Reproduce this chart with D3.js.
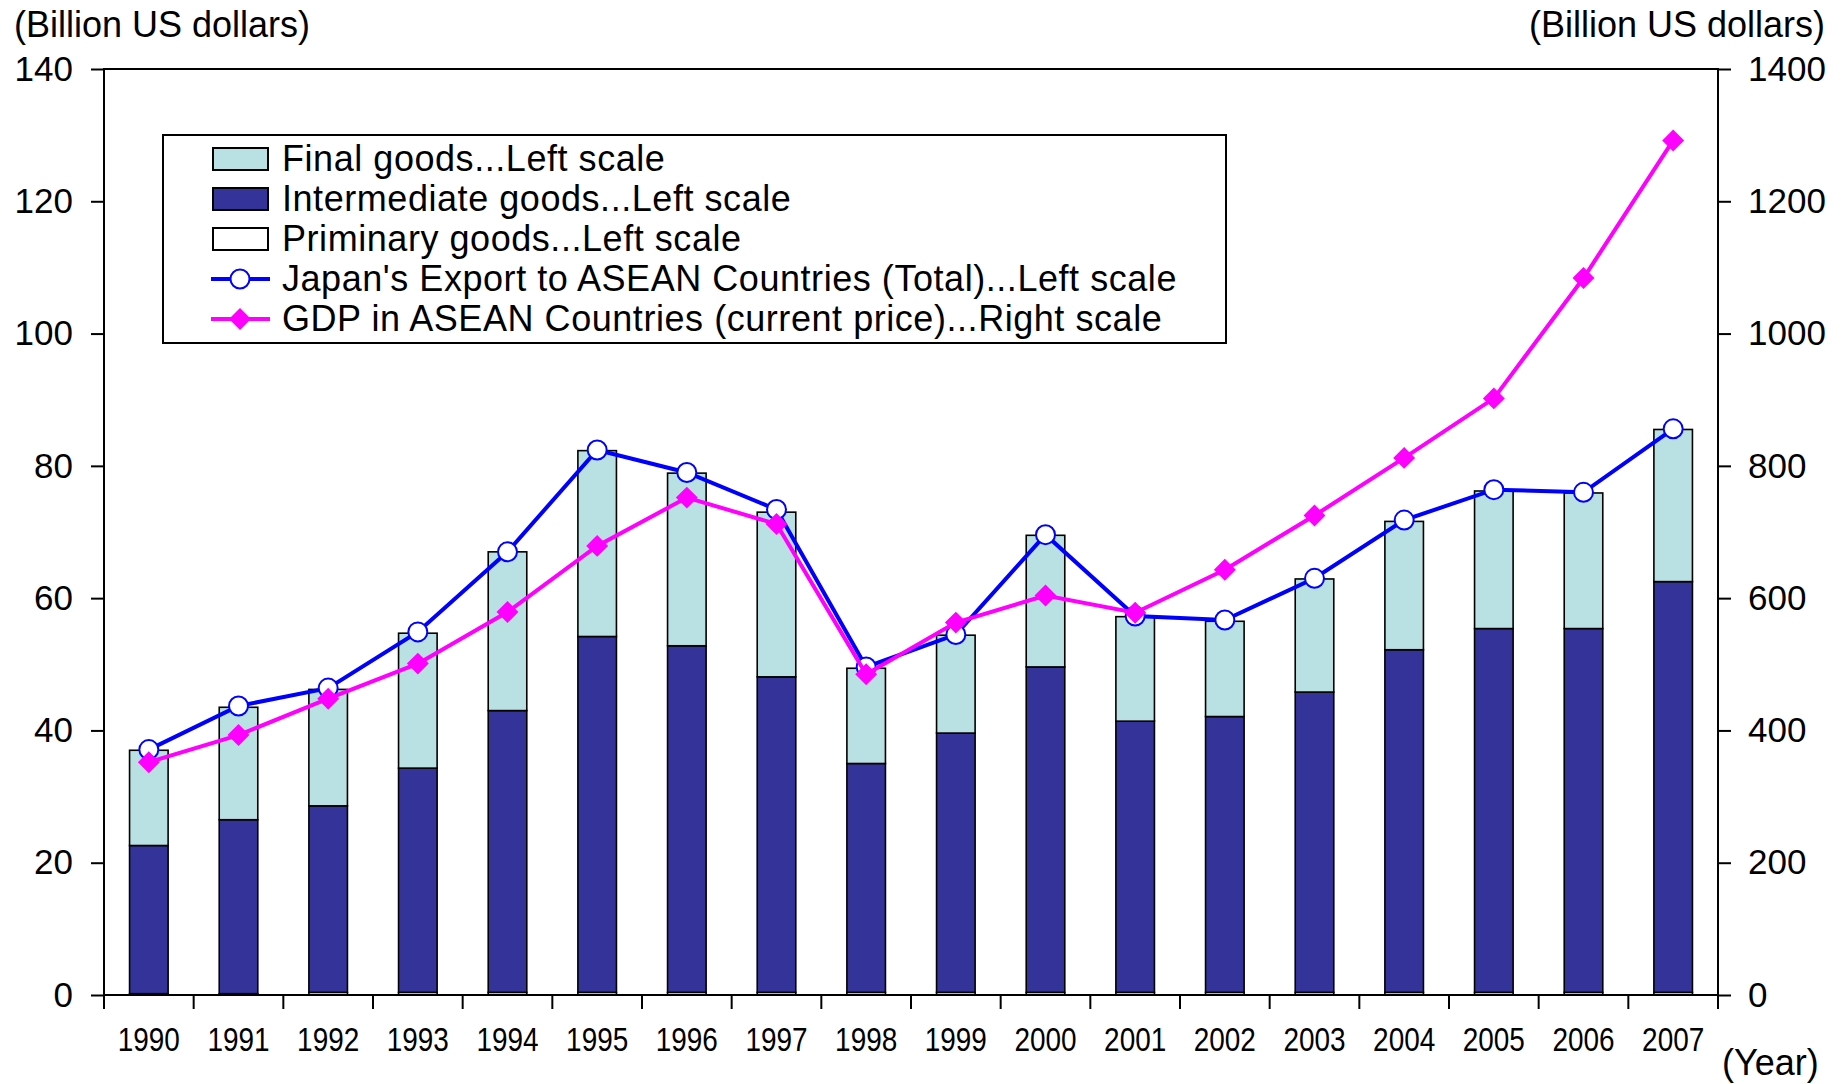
<!DOCTYPE html>
<html>
<head>
<meta charset="utf-8">
<script src="https://cdn.jsdelivr.net/npm/d3@7"></script>
<style>
  body { margin: 0; background: #fff; }
  text { font-family: 'Liberation Sans', Arial, sans-serif; fill: #000; }
</style>
</head>
<body>
<div id="chart-area"></div>
<script>
// chart data (billion US dollars)
const years = ['1990', '1991', '1992', '1993', '1994', '1995', '1996', '1997', '1998',
  '1999', '2000', '2001', '2002', '2003', '2004', '2005', '2006', '2007'];
const primary = [0.2, 0.2, 0.4, 0.4, 0.4, 0.4, 0.4, 0.4, 0.4, 0.4, 0.4, 0.4, 0.4, 0.4, 0.4, 0.4, 0.4, 0.4];
const intermediate = [22.4, 26.3, 28.2, 33.9, 42.6, 53.8, 52.4, 47.7, 34.6, 39.2, 49.2, 41.0, 41.7, 45.4, 51.8, 55.0, 55.0, 62.1];
const finalGoods = [14.4, 17.0, 17.6, 20.4, 24.0, 28.1, 26.1, 24.9, 14.4, 14.8, 19.9, 15.8, 14.4, 17.1, 19.4, 20.8, 20.5, 23.0];
const exportTotal = [37.1, 43.7, 46.4, 54.9, 67.0, 82.4, 79.0, 73.4, 49.6, 54.5, 69.6, 57.3, 56.7, 63.0, 71.8, 76.4, 76.0, 85.6];
const gdp = [352, 393, 448, 501, 579, 679, 752, 712, 485, 563, 604, 578, 643, 725, 812, 902, 1084, 1292];

const leftTicks = [0, 20, 40, 60, 80, 100, 120, 140];
const rightTicks = [0, 200, 400, 600, 800, 1000, 1200, 1400];

const legendItems = [
  { label: 'Final goods...Left scale', type: 'rect', fill: '#b9e0e3' },
  { label: 'Intermediate goods...Left scale', type: 'rect', fill: '#333399' },
  { label: 'Priminary goods...Left scale', type: 'rect', fill: '#ffffff' },
  { label: "Japan's Export to ASEAN Countries (Total)...Left scale", type: 'circle', color: '#0000ff' },
  { label: 'GDP in ASEAN Countries (current price)...Right scale', type: 'diamond', color: '#ff00ff' },
];

const W = 1843, H = 1084;
const plot = { left: 104, right: 1718, top: 69, bottom: 995 };

const svg = d3.select('#chart-area').append('svg')
  .attr('width', W).attr('height', H)
  .attr('viewBox', `0 0 ${W} ${H}`);

// scales
const x = d3.scaleBand().domain(years).range([plot.left, plot.right]).padding(0);
const y = d3.scaleLinear().domain([0, 140]).range([plot.bottom, plot.top]);
const y2 = d3.scaleLinear().domain([0, 1400]).range([plot.bottom, plot.top]);
const barW = x.bandwidth() * 0.43;
const cx = (d) => x(d) + x.bandwidth() / 2;

// stacked bars: primary at the bottom, then intermediate, then final
const rows = years.map((yr, i) => ({ year: yr, primary: primary[i], intermediate: intermediate[i], final: finalGoods[i] }));
const stack = d3.stack().keys(['primary', 'intermediate', 'final'])(rows);
const barColor = { primary: '#ffffff', intermediate: '#333399', final: '#b9e0e3' };

svg.append('g').selectAll('g')
  .data(stack)
  .join('g')
  .attr('fill', (s) => barColor[s.key])
  .selectAll('rect')
  .data((s) => s)
  .join('rect')
  .attr('x', (d) => cx(d.data.year) - barW / 2)
  .attr('width', barW)
  .attr('y', (d) => y(d[1]))
  .attr('height', (d) => y(d[0]) - y(d[1]))
  .attr('stroke', '#000')
  .attr('stroke-width', 1.6);

// frame
const axisStroke = 2;
svg.append('path')
  .attr('d', `M${plot.left},${plot.bottom}V${plot.top}H${plot.right}V${plot.bottom}Z`)
  .attr('fill', 'none').attr('stroke', '#000').attr('stroke-width', axisStroke);

// left axis
const yAxis = svg.append('g')
  .attr('transform', `translate(${plot.left},0)`)
  .call(d3.axisLeft(y).tickValues(leftTicks).tickSize(13).tickPadding(18));
yAxis.select('.domain').remove();
yAxis.selectAll('line').attr('stroke-width', axisStroke);
yAxis.selectAll('text').attr('font-size', 35).attr('font-family', null);

// right axis
const yAxis2 = svg.append('g')
  .attr('transform', `translate(${plot.right},0)`)
  .call(d3.axisRight(y2).tickValues(rightTicks).tickSize(13).tickPadding(17).tickFormat(d3.format('d')));
yAxis2.select('.domain').remove();
yAxis2.selectAll('line').attr('stroke-width', axisStroke);
yAxis2.selectAll('text').attr('font-size', 35).attr('font-family', null);

// x axis: ticks between the categories
svg.append('g').selectAll('line')
  .data(years.concat(['end']))
  .join('line')
  .attr('x1', (d, i) => i < years.length ? x(d) : plot.right)
  .attr('x2', (d, i) => i < years.length ? x(d) : plot.right)
  .attr('y1', plot.bottom)
  .attr('y2', plot.bottom + 14)
  .attr('stroke', '#000').attr('stroke-width', axisStroke);

svg.append('g').selectAll('text')
  .data(years)
  .join('text')
  .attr('transform', (d) => `translate(${cx(d)},1051) scale(0.86,1)`)
  .attr('text-anchor', 'middle')
  .attr('font-size', 32.5)
  .text((d) => d);

// axis titles
svg.append('text').attr('x', 14).attr('y', 37).attr('font-size', 36).text('(Billion US dollars)');
svg.append('text').attr('x', 1825).attr('y', 37).attr('font-size', 36).attr('text-anchor', 'end').text('(Billion US dollars)');
svg.append('text').attr('x', 1722).attr('y', 1075).attr('font-size', 36).text('(Year)');

// export total line (left scale)
const lineL = d3.line().x((d, i) => cx(years[i])).y((d) => y(d));
svg.append('path').datum(exportTotal)
  .attr('d', lineL).attr('fill', 'none').attr('stroke', '#0000ff').attr('stroke-width', 4);
svg.append('g').selectAll('circle')
  .data(exportTotal)
  .join('circle')
  .attr('cx', (d, i) => cx(years[i])).attr('cy', (d) => y(d)).attr('r', 9.5)
  .attr('fill', '#fff').attr('stroke', '#0000ff').attr('stroke-width', 2);

// GDP line (right scale)
const lineR = d3.line().x((d, i) => cx(years[i])).y((d) => y2(d));
const diamond = d3.symbol().type(d3.symbolSquare).size(240);
svg.append('path').datum(gdp)
  .attr('d', lineR).attr('fill', 'none').attr('stroke', '#ff00ff').attr('stroke-width', 4);
svg.append('g').selectAll('path')
  .data(gdp)
  .join('path')
  .attr('d', diamond)
  .attr('transform', (d, i) => `translate(${cx(years[i])},${y2(d)}) rotate(45)`)
  .attr('fill', '#ff00ff');

// legend
const legend = svg.append('g');
legend.append('rect')
  .attr('x', 163).attr('y', 135).attr('width', 1063).attr('height', 208)
  .attr('fill', '#fff').attr('stroke', '#000').attr('stroke-width', 2);

const item = legend.selectAll('.item')
  .data(legendItems)
  .join('g')
  .attr('class', 'item')
  .attr('transform', (d, i) => `translate(0, ${159 + i * 40})`);

item.filter((d) => d.type === 'rect').append('rect')
  .attr('x', 213).attr('y', -11).attr('width', 55).attr('height', 22)
  .attr('fill', (d) => d.fill).attr('stroke', '#000').attr('stroke-width', 2);
item.filter((d) => d.type !== 'rect').append('line')
  .attr('x1', 211).attr('x2', 270).attr('y1', 0).attr('y2', 0)
  .attr('stroke', (d) => d.color).attr('stroke-width', 4);
item.filter((d) => d.type === 'circle').append('circle')
  .attr('cx', 240).attr('cy', 0).attr('r', 9.5)
  .attr('fill', '#fff').attr('stroke', (d) => d.color).attr('stroke-width', 2);
item.filter((d) => d.type === 'diamond').append('path')
  .attr('d', diamond)
  .attr('transform', 'translate(240,0) rotate(45)')
  .attr('fill', (d) => d.color);

item.append('text')
  .attr('x', 282).attr('y', 12)
  .attr('font-size', 36)
  .attr('letter-spacing', 0.55)
  .text((d) => d.label);
</script>
</body>
</html>
